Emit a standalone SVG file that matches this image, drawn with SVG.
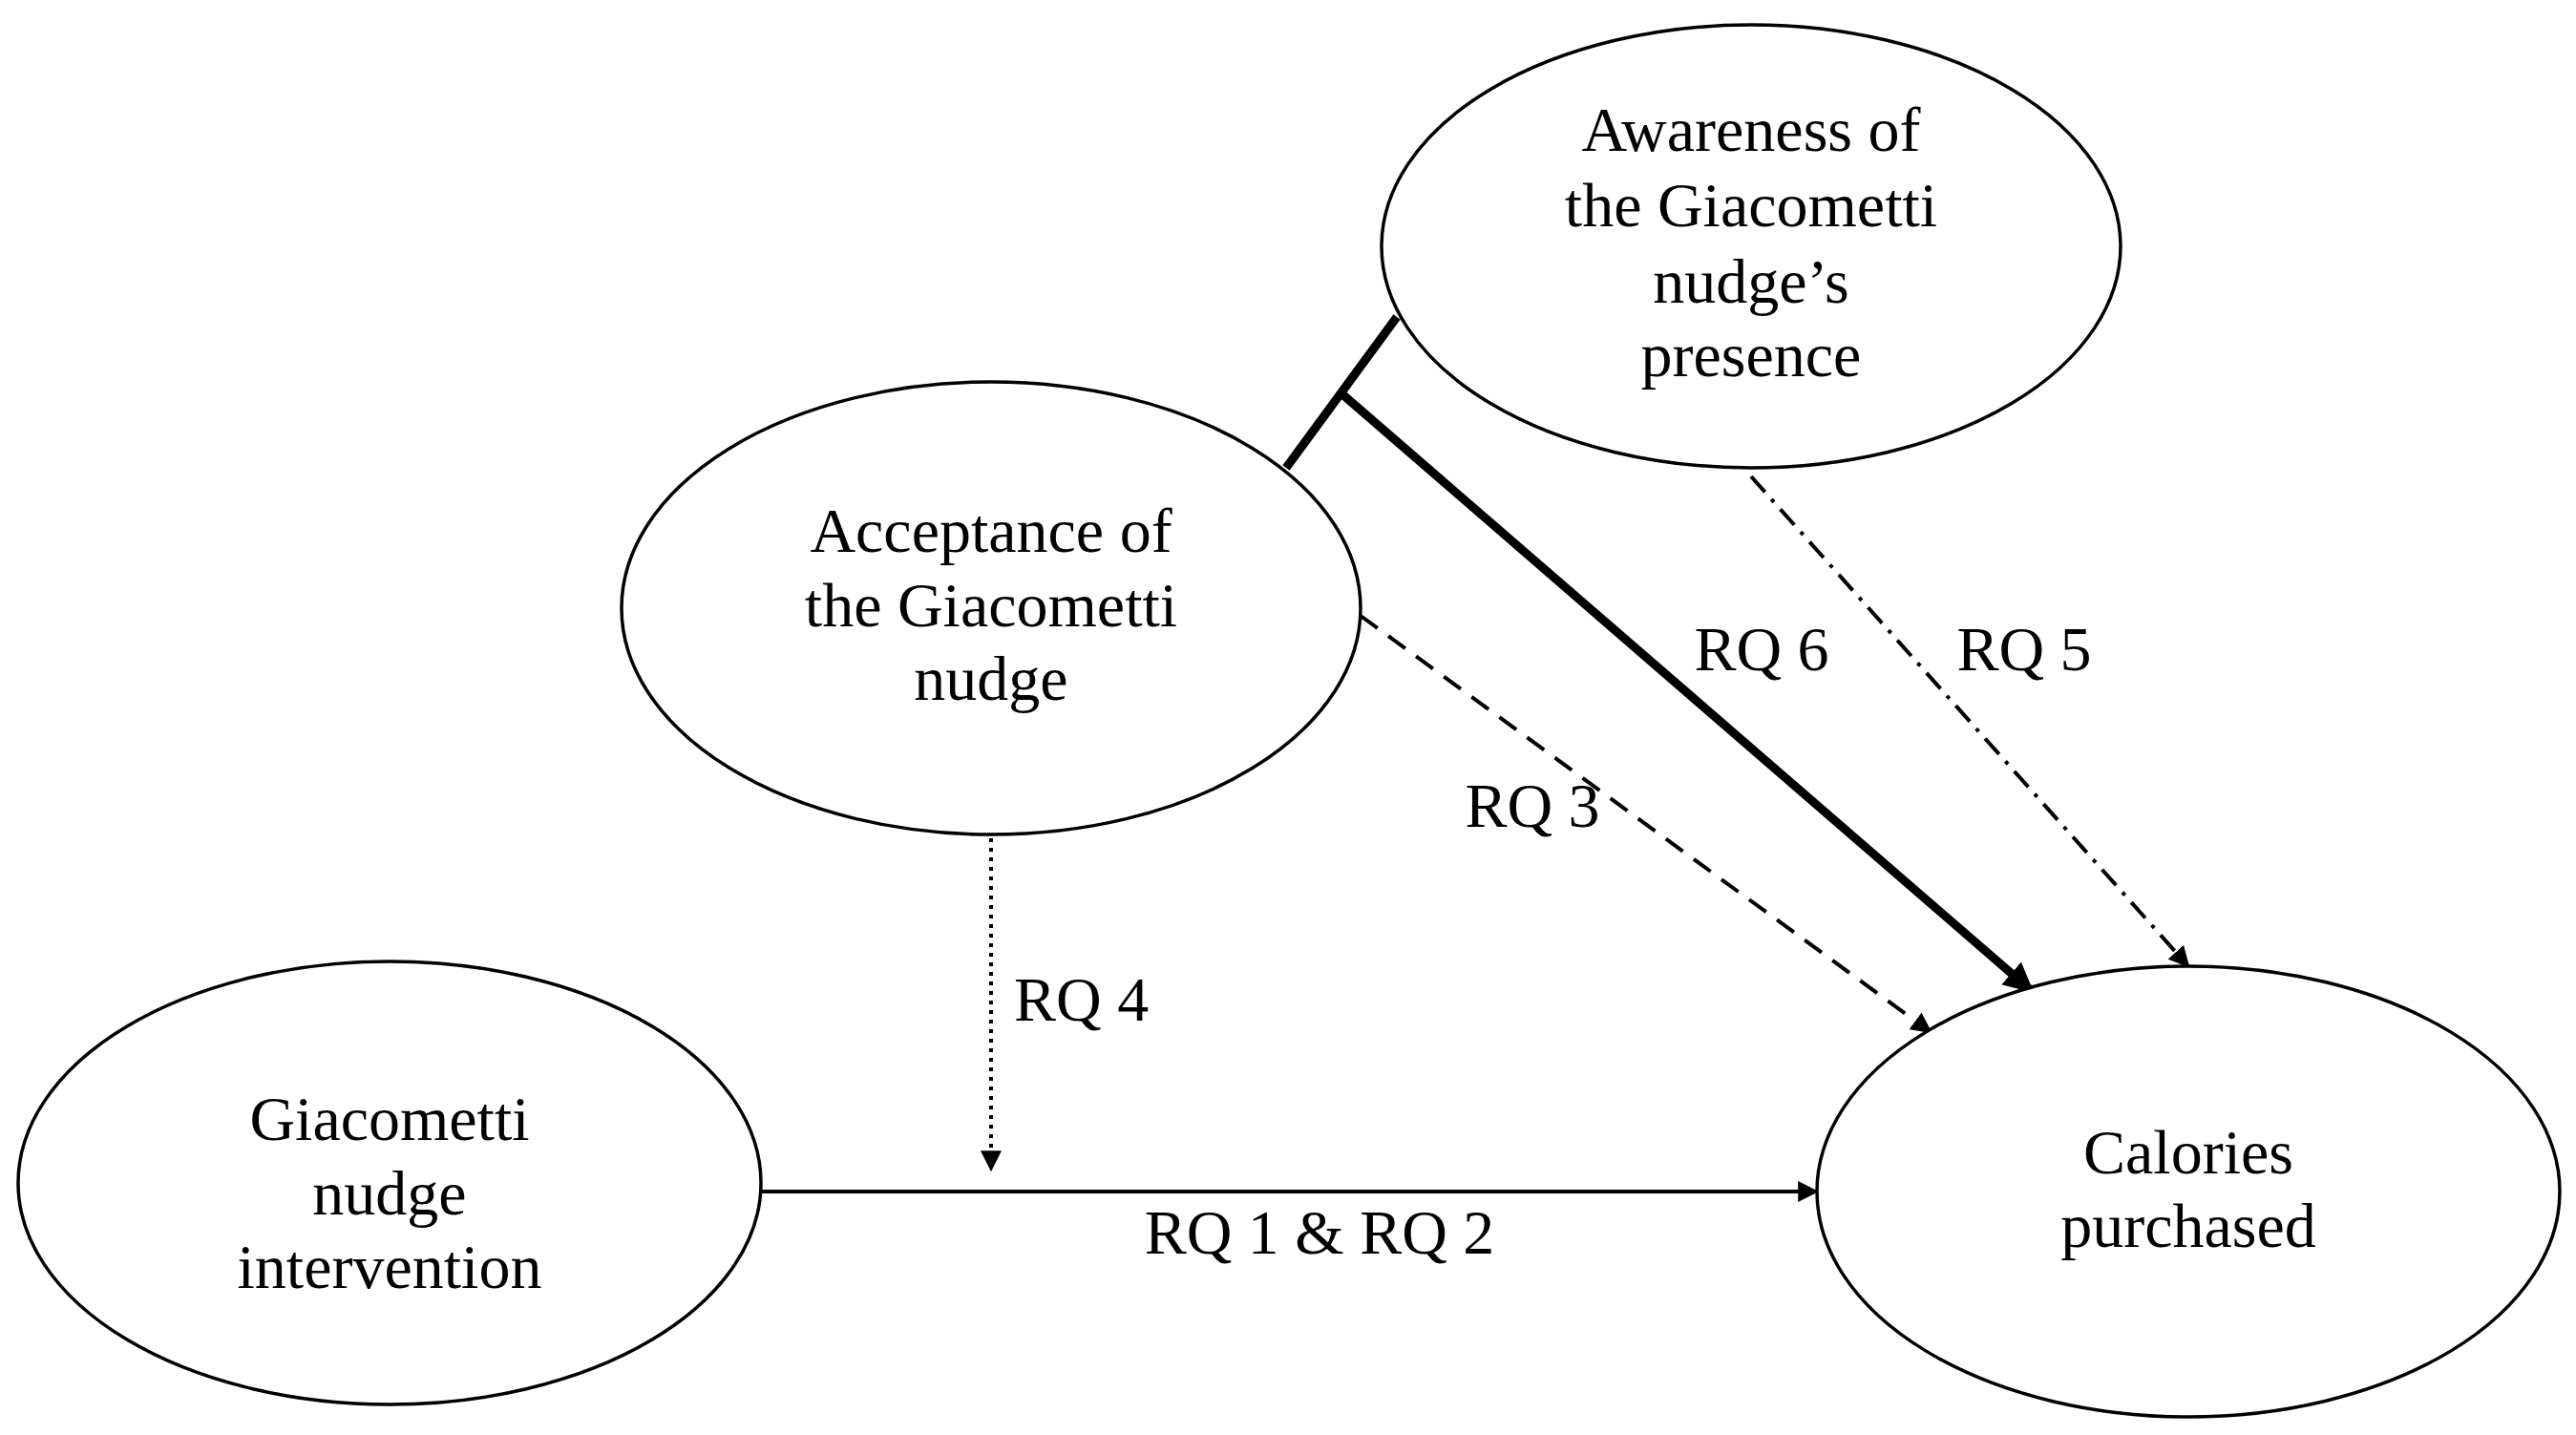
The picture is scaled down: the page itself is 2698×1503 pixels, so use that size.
<svg xmlns="http://www.w3.org/2000/svg" width="2698" height="1503" viewBox="0 0 2698 1503">
<style>
.n{fill:#fff;stroke:#000;stroke-width:3.5}
text{font-family:"Liberation Serif","DejaVu Serif",serif;font-size:66px;fill:#000;text-anchor:middle}
.c{fill:none;stroke:#000;stroke-width:4}
.t{fill:none;stroke:#000;stroke-width:9}
</style>
<defs>
<marker id="a" viewBox="0 0 10 10" refX="9" refY="5" markerWidth="5.5" markerHeight="5.5" orient="auto" markerUnits="strokeWidth"><path d="M0,0L10,5L0,10z"/></marker>
<marker id="b" viewBox="0 0 10 10" refX="9" refY="5" markerWidth="3.5" markerHeight="3.5" orient="auto" markerUnits="strokeWidth"><path d="M0,0L10,5L0,10z"/></marker>
</defs>
<rect width="2698" height="1503" fill="#fff"/>
<g id="connectors">
<line class="c" x1="795" y1="1248" x2="1903" y2="1248" marker-end="url(#a)"/>
<line class="c" x1="1038" y1="878" x2="1038" y2="1225" stroke-dasharray="4,6" marker-end="url(#a)"/>
<line class="c" x1="1425" y1="645" x2="2022" y2="1081" stroke-dasharray="22,14" marker-end="url(#a)"/>
<line class="c" x1="1834" y1="499" x2="2292" y2="1012" stroke-dasharray="22,10,4,10" marker-end="url(#a)"/>
<line class="t" x1="1347" y1="490" x2="1463" y2="332"/>
<line class="t" x1="1406" y1="413" x2="2128" y2="1038" marker-end="url(#b)"/>
<text x="1382" y="1313">RQ 1 &amp; RQ 2</text>
<text x="1062" y="1069" style="text-anchor:start">RQ 4</text>
<text x="1605" y="866">RQ 3</text>
<text x="1845" y="702">RQ 6</text>
<text x="2120" y="702">RQ 5</text>
</g>
<g id="awareness"><ellipse class="n" cx="1834" cy="258" rx="387" ry="232"/>
<text x="1834" y="158">Awareness of</text><text x="1834" y="237">the Giacometti</text><text x="1834" y="317">nudge’s</text><text x="1834" y="394">presence</text></g>
<g id="acceptance"><ellipse class="n" cx="1038" cy="637" rx="387" ry="237"/>
<text x="1038" y="578">Acceptance of</text><text x="1038" y="656">the Giacometti</text><text x="1038" y="733">nudge</text></g>
<g id="intervention"><ellipse class="n" cx="408" cy="1239" rx="389" ry="232"/>
<text x="408" y="1194">Giacometti</text><text x="408" y="1272">nudge</text><text x="408" y="1349">intervention</text></g>
<g id="calories"><ellipse class="n" cx="2292" cy="1248" rx="389" ry="236"/>
<text x="2292" y="1229">Calories</text><text x="2292" y="1306">purchased</text></g>
</svg>
